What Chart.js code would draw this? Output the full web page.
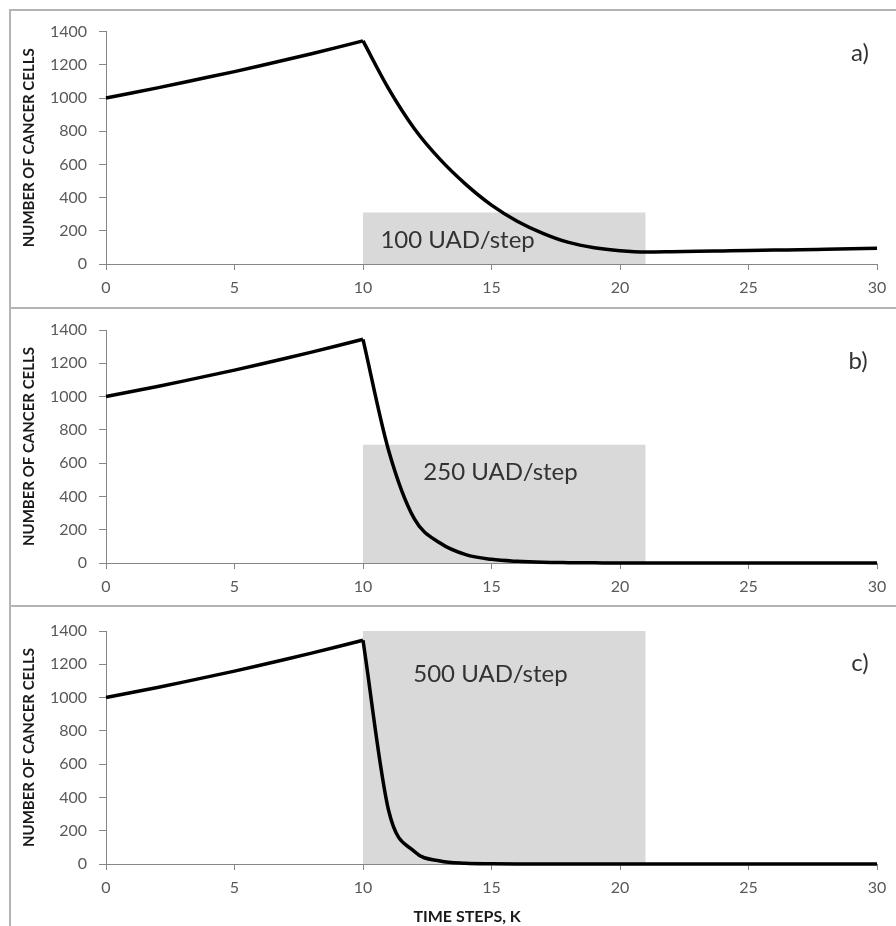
<!DOCTYPE html>
<html>
<head>
<meta charset="utf-8">
<script src="https://cdn.jsdelivr.net/npm/chart.js@4.4.1/dist/chart.umd.min.js"></script>
<style>
  body { margin: 0; background: #fff; overflow: hidden; width: 896px; height: 926px; position: relative; }
  .frame { position: absolute; box-sizing: border-box; border: 2px solid #b4b4b4; border-right: none; }
  canvas { position: absolute; left: 0; }
</style>
</head>
<body>
<div class="frame" style="left:9px; top:9px; width:900px; height:300px;"></div>
<div class="frame" style="left:9px; top:307px; width:900px; height:300px;"></div>
<div class="frame" style="left:9px; top:605px; width:900px; height:400px;"></div>
<canvas id="chartA" width="896" height="297" style="top:10px"></canvas>
<canvas id="chartB" width="896" height="299" style="top:308px"></canvas>
<canvas id="chartC" width="896" height="319" style="top:607px"></canvas>
<script>
// time steps before and during/after treatment
var growthSteps = [0, 1, 2, 3, 4, 5, 6, 7, 8, 9, 10];
var treatSteps = [10, 11, 12, 13, 14, 15, 16, 17, 18, 19, 20, 21, 22, 23, 24, 25, 26, 27, 28, 29, 30];

// untreated growth, same in all three runs
var growthCells = [1000, 1030, 1061, 1093, 1126, 1159, 1194, 1230, 1267, 1305, 1344];

// cells from step 10 on, for each dose
var cellsA = [1344, 1055, 815, 630, 480, 355, 258, 185, 130, 98, 80, 72, 74, 77, 79, 81, 84, 86, 89, 92, 95];
var cellsB = [1344, 675, 265, 120, 50, 22, 10, 4, 2, 1, 0, 0, 0, 0, 0, 0, 0, 0, 0, 0, 0];
var cellsC = [1344, 320, 75, 18, 4, 1, 0, 0, 0, 0, 0, 0, 0, 0, 0, 0, 0, 0, 0, 0, 0];

// treatment window and height of the grey box
var doseWindow = [10, 21];
var doseBoxTop = [310, 710, 1400];
var doseLabels = ['100 UAD/step', '250 UAD/step', '500 UAD/step'];
var panelTags = ['a)', 'b)', 'c)'];

var yTicks = { min: 0, max: 1400, step: 200 };
var xTicks = { min: 0, max: 30, step: 5 };

var FONT = 'Lato, "Open Sans", sans-serif';

function pairs(xs, ys) {
  return xs.map(function (x, i) { return { x: x, y: ys[i] }; });
}

function plain(v) { return String(v); }

// draws the dose text, the panel letter and the x title
var panelNotes = {
  id: 'panelNotes',
  afterDatasetsDraw: function (chart, args, opts) {
    var ctx = chart.ctx;
    var x = chart.scales.x, y = chart.scales.y;
    ctx.save();
    ctx.textAlign = 'center';
    ctx.textBaseline = 'middle';
    ctx.fillStyle = '#333333';
    ctx.font = '24px ' + FONT;
    ctx.fillText(opts.dose, x.getPixelForValue(opts.doseAt[0]), y.getPixelForValue(opts.doseAt[1]));
    ctx.fillText(opts.tag, x.getPixelForValue(opts.tagAt[0]), y.getPixelForValue(opts.tagAt[1]));
    if (opts.xTitle) {
      ctx.font = 'bold 16px ' + FONT;
      ctx.fillStyle = '#1a1a1a';
      ctx.fillText(opts.xTitle, x.getPixelForValue(opts.xTitleAt), chart.height - 9);
    }
    ctx.restore();
  }
};

function makePanel(id, cells, i, notes, topPad, xHeight) {
  var ctx = document.getElementById(id).getContext('2d');
  notes.dose = doseLabels[i];
  notes.tag = panelTags[i];
  return new Chart(ctx, {
    type: 'line',
    data: {
      datasets: [
        {
          data: pairs(growthSteps, growthCells),
          borderColor: '#000', borderWidth: 3.5, pointRadius: 0, tension: 0, clip: false
        },
        {
          data: pairs(treatSteps, cells),
          borderColor: '#000', borderWidth: 3.5, pointRadius: 0,
          cubicInterpolationMode: 'monotone', clip: false
        },
        {
          data: pairs(doseWindow, [doseBoxTop[i], doseBoxTop[i]]),
          borderColor: 'rgba(0,0,0,0)', borderWidth: 0, pointRadius: 0,
          backgroundColor: '#d9d9d9', fill: 'origin'
        }
      ]
    },
    options: {
      responsive: false,
      animation: false,
      events: [],
      layout: { padding: { left: 10, right: 19, top: topPad, bottom: 0 } },
      plugins: {
        legend: { display: false },
        tooltip: { enabled: false },
        panelNotes: notes
      },
      scales: {
        x: {
          type: 'linear',
          min: xTicks.min, max: xTicks.max,
          ticks: { stepSize: xTicks.step, color: '#595959', font: { family: FONT, size: 16 }, padding: 8, maxRotation: 0, callback: plain },
          grid: { drawOnChartArea: false, drawTicks: true, tickLength: 6, color: '#868686' },
          border: { color: '#868686', width: 1 },
          afterFit: function (s) { s.height = xHeight; }
        },
        y: {
          min: yTicks.min, max: yTicks.max,
          ticks: { stepSize: yTicks.step, color: '#595959', font: { family: FONT, size: 16 }, padding: 12, callback: plain },
          grid: { drawOnChartArea: false, drawTicks: true, tickLength: 7, color: '#868686' },
          border: { color: '#868686', width: 1 },
          title: {
            display: true, text: 'NUMBER OF CANCER CELLS', color: '#1a1a1a',
            font: { family: FONT, size: 15, weight: 'bold' }, padding: { top: 10, bottom: 0 }
          },
          afterFit: function (s) { s.width = 96; }
        }
      }
    },
    plugins: [panelNotes]
  });
}

makePanel('chartA', cellsA, 0, { doseAt: [13.68, 144], tagAt: [29.34, 1271] }, 21, 43);
makePanel('chartB', cellsB, 1, { doseAt: [15.35, 547], tagAt: [29.26, 1214] }, 22, 44);
makePanel('chartC', cellsC, 2, { doseAt: [14.96, 1142], tagAt: [29.34, 1208], xTitle: 'TIME STEPS, K', xTitleAt: 14.05 }, 24, 62);
</script>
</body>
</html>
